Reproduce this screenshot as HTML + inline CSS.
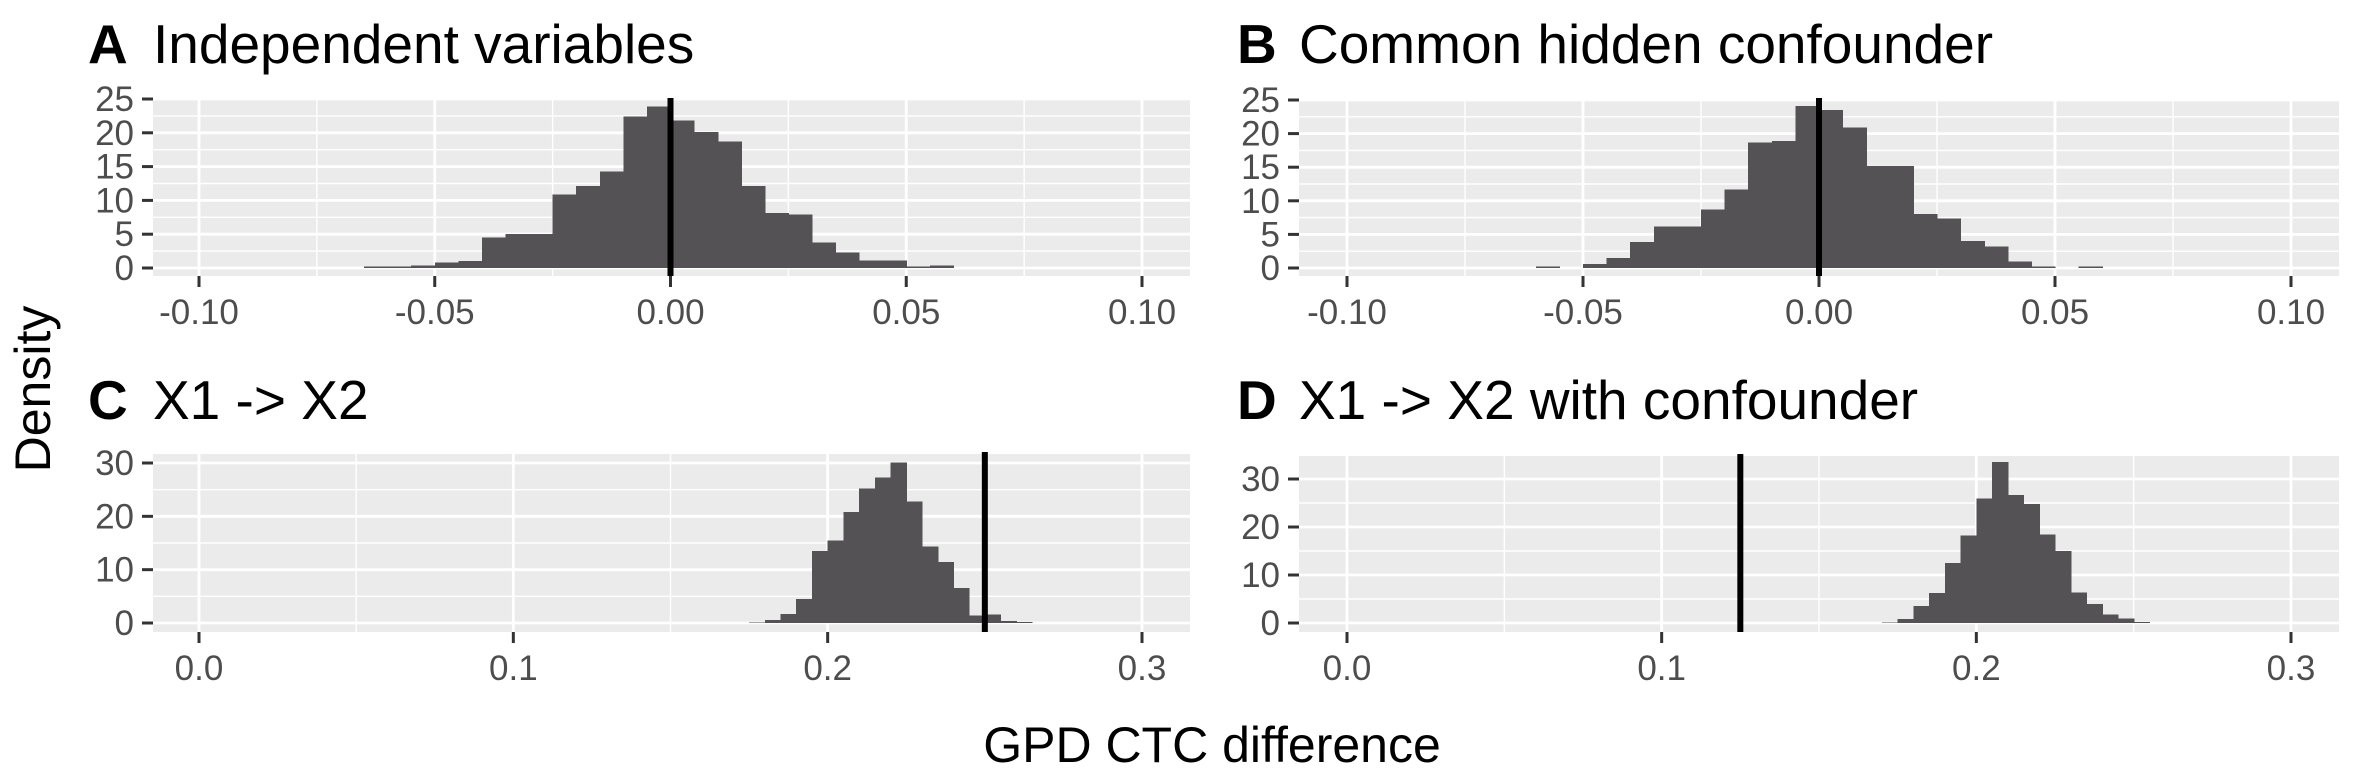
<!DOCTYPE html>
<html><head><meta charset="utf-8"><style>
html,body{margin:0;padding:0;background:#fff;}
svg{display:block;font-family:"Liberation Sans",sans-serif;}
</style></head><body>
<svg id="fig" width="2362" height="779" viewBox="0 0 2362 779" xmlns="http://www.w3.org/2000/svg">
<text x="1212" y="762" font-size="50" text-anchor="middle" fill="#000">GPD CTC difference</text>
<text transform="translate(50,389) rotate(-90)" font-size="50" text-anchor="middle" fill="#000">Density</text>
</svg>
<script>
// Panel A data
const aStart = -0.065;
const aDensity = [0.2,0.2,0.4,0.8,1.0,4.5,5.0,5.0,10.9,12.1,14.3,22.4,23.9,21.8,20.1,18.7,12.1,8.1,7.9,3.8,2.3,1.1,1.1,0.2,0.4];
const aRef = 0;
// Panel B data
const bStart = -0.06;
const bDensity = [0.2,0,0.6,1.5,3.9,6.2,6.2,8.7,11.7,18.7,18.9,24.1,23.5,20.9,15.2,15.2,8.0,7.4,4.0,3.2,1.0,0.2,0,0.2];
const bRef = 0;
// Panel C data
const cStart = 0.175;
const cDensity = [0.1,0.6,1.7,4.5,13.5,15.5,20.8,25.2,27.3,30.1,22.8,14.3,11.4,6.6,1.4,1.6,0.4,0.2];
const cRef = 0.25;
// Panel D data
const dStart = 0.17;
const dDensity = [0.1,0.8,3.5,6.2,12.5,18.2,25.9,33.5,26.7,24.8,18.4,15.0,6.4,4.0,1.8,0.9,0.2];
const dRef = 0.125;
const binWidth = 0.005;
const xTicksAB = [-0.10,-0.05,0.00,0.05,0.10];
const xTickLabelsAB = ["-0.10","-0.05","0.00","0.05","0.10"];
const xTicksCD = [0.0,0.1,0.2,0.3];
const xTickLabelsCD = ["0.0","0.1","0.2","0.3"];
const yTicksAB = [0,5,10,15,20,25];
const yTicksCD = [0,10,20,30];
const titles = [["A","Independent variables"],["B","Common hidden confounder"],["C","X1 -> X2"],["D","X1 -> X2 with confounder"]];

const NS = "http://www.w3.org/2000/svg";
const svg = document.getElementById("fig");
function mk(tag, attrs, parent){
  const e = document.createElementNS(NS, tag);
  for (const k in attrs) e.setAttribute(k, attrs[k]);
  (parent||svg).appendChild(e);
  return e;
}
function panel(cfg){
  const g = mk("g", {});
  
  
  const xs = v => cfg.x0 + (v - cfg.xd[0]) / (cfg.xd[1]-cfg.xd[0]) * (cfg.x1 - cfg.x0);
  const ys = v => cfg.y0 + (v - cfg.yd[0]) / (cfg.yd[1]-cfg.yd[0]) * (cfg.y1 - cfg.y0);
  const bg = mk("rect", {x:cfg.L, y:cfg.T, width:cfg.R-cfg.L, height:cfg.B-cfg.T, fill:"#EBEBEB"}, g);
  
  
  for (let i=0;i<cfg.xt.length-1;i++){
    const xm = xs((cfg.xt[i]+cfg.xt[i+1])/2);
    mk("line",{x1:xm,x2:xm,y1:cfg.T,y2:cfg.B,stroke:"#fff","stroke-width":1.4},g);
  }
  for (let i=0;i<cfg.yt.length-1;i++){
    const ym = ys((cfg.yt[i]+cfg.yt[i+1])/2);
    mk("line",{x1:cfg.L,x2:cfg.R,y1:ym,y2:ym,stroke:"#fff","stroke-width":1.4},g);
  }
  const yTop = cfg.yt[cfg.yt.length-1] + (cfg.yt[1]-cfg.yt[0])/2;
  if (ys(yTop) > cfg.T) { const ym=ys(yTop); mk("line",{x1:cfg.L,x2:cfg.R,y1:ym,y2:ym,stroke:"#fff","stroke-width":1.4},g); }
  cfg.xt.forEach(v=>{ const x=xs(v); mk("line",{x1:x,x2:x,y1:cfg.T,y2:cfg.B,stroke:"#fff","stroke-width":2.8},g); });
  cfg.yt.forEach(v=>{ const y=ys(v); mk("line",{x1:cfg.L,x2:cfg.R,y1:y,y2:y,stroke:"#fff","stroke-width":2.8},g); });
  cfg.data.forEach((d,i)=>{
    if (d<=0) return;
    const xa = xs(cfg.start + i*binWidth), xb = xs(cfg.start + (i+1)*binWidth);
    const r = mk("rect",{x:xa,y:ys(d),width:xb-xa+0.6,height:ys(0)-ys(d),fill:"#545254","shape-rendering":"crispEdges"},g);
    
    
  });
  const xr = xs(cfg.ref);
  const vl = mk("line",{x1:xr,x2:xr,y1:cfg.T-2,y2:cfg.B,stroke:"#000","stroke-width":6},g);
  
  
  cfg.yt.forEach(v=>{
    const y=ys(v);
    mk("line",{x1:cfg.L-11,x2:cfg.L,y1:y,y2:y,stroke:"#333","stroke-width":3},g);
    const t = mk("text",{x:cfg.L-19,y:y+12,"font-size":35,"text-anchor":"end",fill:"#4D4D4D"},g);
    t.textContent = String(v);
    
    
  });
  cfg.xt.forEach((v,i)=>{
    const x=xs(v);
    mk("line",{x1:x,x2:x,y1:cfg.B,y2:cfg.B+11,stroke:"#333","stroke-width":3},g);
    const t = mk("text",{x:x,y:cfg.B+48,"font-size":35,"text-anchor":"middle",fill:"#4D4D4D"},g);
    t.textContent = cfg.xl[i];
    
    
  });
  const tt = mk("text",{x:cfg.tagX,y:cfg.titleY,"font-size":55,fill:"#000"},g);
  
  
  const b = mk("tspan",{"font-weight":"bold"},tt); b.textContent = cfg.title[0];
  const s = mk("tspan",{x:cfg.L},tt); s.textContent = cfg.title[1];
}
panel({id:"a",L:153,R:1190,T:100,B:276,x0:199,x1:1142,xd:[-0.1,0.1],y0:268,y1:99,yd:[0,25],
  xt:xTicksAB,xl:xTickLabelsAB,yt:yTicksAB,data:aDensity,start:aStart,ref:aRef,title:titles[0],tagX:88,titleY:63});
panel({id:"b",L:1299,R:2339,T:100,B:276,x0:1347,x1:2291,xd:[-0.1,0.1],y0:268,y1:100,yd:[0,25],
  xt:xTicksAB,xl:xTickLabelsAB,yt:yTicksAB,data:bDensity,start:bStart,ref:bRef,title:titles[1],tagX:1237,titleY:63});
panel({id:"c",L:153,R:1190,T:454,B:632,x0:199,x1:1142,xd:[0,0.3],y0:623,y1:463,yd:[0,30],
  xt:xTicksCD,xl:xTickLabelsCD,yt:yTicksCD,data:cDensity,start:cStart,ref:cRef,title:titles[2],tagX:88,titleY:419});
panel({id:"d",L:1299,R:2339,T:456,B:632,x0:1347,x1:2291,xd:[0,0.3],y0:623,y1:479,yd:[0,30],
  xt:xTicksCD,xl:xTickLabelsCD,yt:yTicksCD,data:dDensity,start:dStart,ref:dRef,title:titles[3],tagX:1237,titleY:419});
</script>
</body></html>
